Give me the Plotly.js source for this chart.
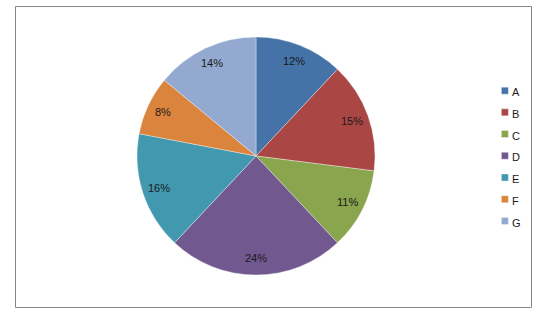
<!DOCTYPE html>
<html><head><meta charset="utf-8">
<script src="https://cdn.plot.ly/plotly-3.0.1.min.js"></script>
<style>body{margin:0;background:#fff}#c{width:543px;height:321px}</style>
</head><body><div id="c"></div>
<script>
var labels = ['A','B','C','D','E','F','G'];
var values = [12,15,11,24,16,8,14];
var colors = ['#4572A7','#AA4643','#89A54E','#71588F','#4198AF','#DB843D','#93A9CF'];

var W = 543, H = 321;
var cx = 256, cy = 156, R = 119;
var trace = {
  type:'pie', labels:labels, values:values, sort:false, direction:'clockwise', rotation:0,
  marker:{colors:colors, line:{color:'rgba(255,255,255,0.6)', width:0.6}},
  textinfo:'none', hoverinfo:'none',
  domain:{x:[(cx-R)/W,(cx+R)/W], y:[1-(cy+R)/H,1-(cy-R)/H]}
};
// percentage labels placed along each slice's mid-angle, derived from the values
var total = values.reduce(function(a,b){return a+b;},0);
var annotations = [];
var cum = 0;
values.forEach(function(v){
  var mid = (cum + v/2)/total*2*Math.PI; cum += v;
  var r = R*0.86;
  annotations.push({xref:'paper', yref:'paper', x:(cx + r*Math.sin(mid))/W, y:1-(cy - r*Math.cos(mid))/H,
    text: Math.round(v/total*100)+'%', showarrow:false, xanchor:'center', yanchor:'middle',
    font:{family:'Liberation Sans, Arial, sans-serif', size:11, color:'#1a1a1a'}});
});
var layout = {
  width:W, height:H, margin:{l:0,r:0,t:0,b:0},
  paper_bgcolor:'#fff', showlegend:true,
  legend:{x:0.8856, y:0.767, xanchor:'left', yanchor:'top', bgcolor:'rgba(0,0,0,0)',
    font:{family:'Liberation Sans, Arial, sans-serif', size:14.4, color:'#1a1a1a'}},
  annotations:annotations,
  shapes:[{type:'rect', xref:'paper', yref:'paper', x0:15.5/W, x1:531.5/W, y0:1-307.5/H, y1:1-6.5/H,
    line:{color:'#868686', width:1}}]
};
Plotly.newPlot('c',[trace],layout,{staticPlot:true}).then(function(){
  document.querySelectorAll('.legendpie').forEach(function(p){ p.setAttribute('d','M3.5,3.5H-3.5V-3.5H3.5Z'); p.setAttribute('transform','translate(24,0)'); });
  document.querySelectorAll('.legendtext').forEach(function(t){ t.style.fontSize='11px'; t.setAttribute('x','31'); });
});
</script></body></html>
